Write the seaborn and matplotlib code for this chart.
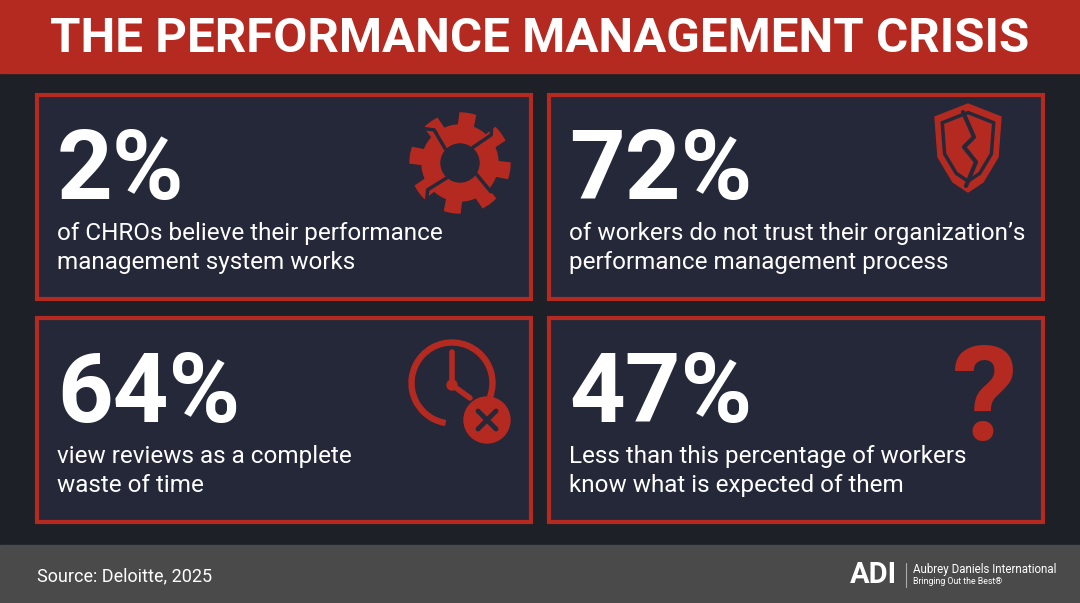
import numpy as np
import matplotlib.pyplot as plt
import seaborn as sns
from matplotlib.patches import Rectangle, Circle, Polygon, Wedge

sns.set_theme(style="white")
plt.rcParams['font.family'] = ['Roboto', 'DejaVu Sans']

# data
title = "THE PERFORMANCE MANAGEMENT CRISIS"
stats = ["2%", "72%", "64%", "47%"]
descs = ["of CHROs believe their performance\nmanagement system works",
         "of workers do not trust their organization’s\nperformance management process",
         "view reviews as a complete\nwaste of time",
         "Less than this percentage of workers\nknow what is expected of them"]
source = "Source: Deloitte, 2025"

RED = "#b52a20"
BG = "#1d2027"
BOX = "#242838"

fig = plt.figure(figsize=(10.8, 6.03), dpi=100)
fig.patch.set_facecolor(BG)
ax = fig.add_axes([0, 0, 1, 1])
ax.set_xlim(0, 1080)
ax.set_ylim(603, 0)
ax.axis("off")

ax.add_patch(Rectangle((0, 0), 1080, 73, color=RED))
ax.text(540, 39, title, color="white", fontsize=35.5, fontweight="bold",
        ha="center", va="center")
ax.add_patch(Rectangle((0, 545), 1080, 58, color="#4a4a4a"))
ax.text(37, 576, source, color="white", fontsize=13, va="center")

boxes = [(37, 95), (549, 95), (37, 318), (549, 318)]
for (x, y), s, d in zip(boxes, stats, descs):
    ax.add_patch(Rectangle((x, y), 494, 204, facecolor=BOX, edgecolor=RED, lw=3))
    ax.text(x + 20, y + 104, s, color="white", fontsize=70, fontweight="bold",
            va="baseline")
    ax.text(x + 20, y + 153, d, color="white", fontsize=17.5, va="center",
            linespacing=1.38)

# gear icon
cx, cy = 460, 163
ang = np.linspace(0, 2 * np.pi, 8 * 20, endpoint=False)
r = np.where((np.arange(len(ang)) % 20) < 9, 50, 38)
ax.add_patch(Polygon(np.c_[cx + r * np.cos(ang), cy + r * np.sin(ang)], color=RED))
ax.add_patch(Circle((cx, cy), 19, color=BOX))
for a in [0.6, 2.3, 3.9, 5.4]:
    ax.plot([cx + 20 * np.cos(a), cx + 42 * np.cos(a + 0.15), cx + 50 * np.cos(a)],
            [cy + 20 * np.sin(a), cy + 42 * np.sin(a + 0.15), cy + 50 * np.sin(a)],
            color=BOX, lw=2.5)

# shield icon
sx, sy = 968, 152
shield = [(sx - 33, sy - 35), (sx, sy - 48), (sx + 33, sy - 35), (sx + 30, sy + 5),
          (sx + 15, sy + 30), (sx, sy + 40), (sx - 15, sy + 30), (sx - 30, sy + 5)]
ax.add_patch(Polygon(shield, color=RED))
inner = [(sx + (px - sx) * 0.78, sy + (py - sy) * 0.78 - 2) for px, py in shield]
ax.add_patch(Polygon(inner, facecolor="none", edgecolor=BOX, lw=2.5))
ax.plot([sx - 5, sx + 6, sx - 4, sx + 8, sx - 2], [sy - 40, sy - 15, sy - 5, sy + 10, sy + 34],
        color=BOX, lw=3)

# clock icon
ax.add_patch(Wedge((452, 383), 43, 100, 20, width=5, color=RED))
ax.plot([452, 452, 470], [352, 385, 398], color=RED, lw=4, solid_capstyle="round")
ax.add_patch(Circle((452, 385), 5, color=RED))
ax.add_patch(Circle((487, 420), 23, color=RED))
ax.plot([478, 496], [411, 429], color=BOX, lw=3.5)
ax.plot([478, 496], [429, 411], color=BOX, lw=3.5)

# question mark
ax.text(985, 440, "?", color=RED, fontsize=95, fontweight="bold", ha="center",
        va="baseline")

# logo
ax.text(850, 575, "ADI", color="white", fontsize=21, fontweight="bold", va="center")
ax.plot([906, 906], [563, 587], color="#aaaaaa", lw=0.8)
ax.text(913, 569, "Aubrey Daniels International", color="white", fontsize=8.3,
        va="center")
ax.text(913, 582, "Bringing Out the Best®", color="white", fontsize=6.3,
        va="center")

fig.savefig("out.png", dpi=100, facecolor=BG)
